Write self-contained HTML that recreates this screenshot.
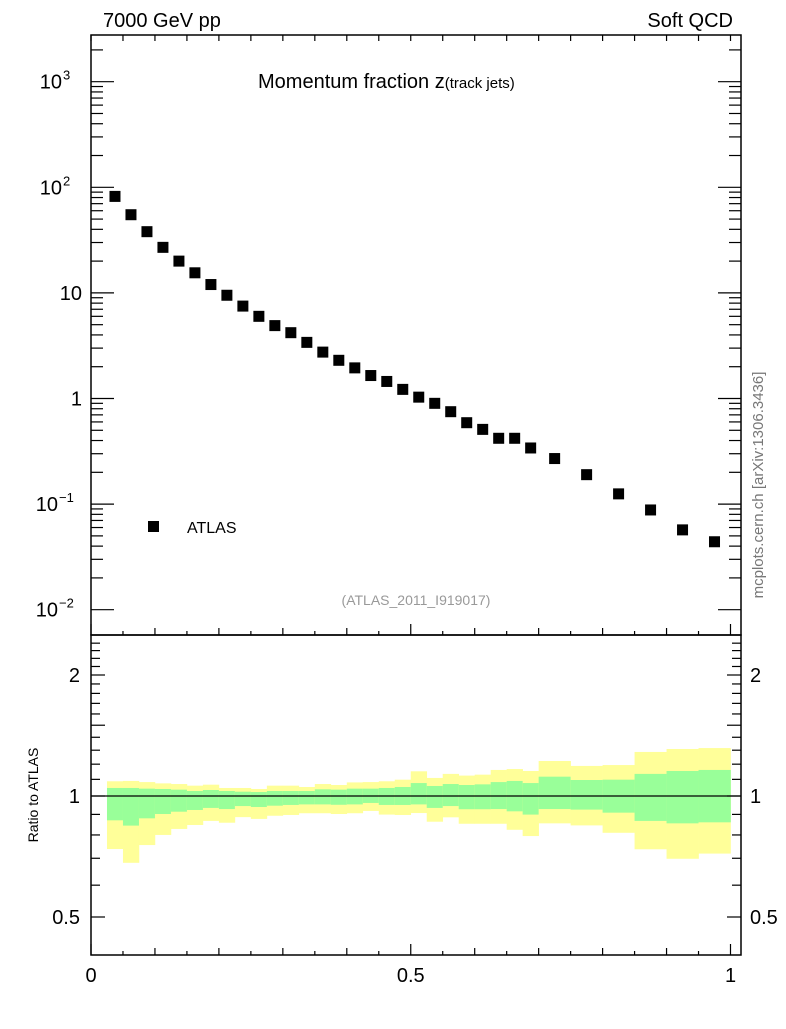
<!DOCTYPE html>
<html><head><meta charset="utf-8"><style>
body{margin:0;background:#fff;}
svg text{font-family:"Liberation Sans",sans-serif;}
</style></head><body>
<svg id="c" width="786" height="1024" xmlns="http://www.w3.org/2000/svg"></svg>
<script>
const xCenters=[0.0375,0.0625,0.0875,0.1125,0.1375,0.1625,0.1875,0.2125,0.2375,0.2625,0.2875,0.3125,0.3375,0.3625,0.3875,0.4125,0.4375,0.4625,0.4875,0.5125,0.5375,0.5625,0.5875,0.6125,0.6375,0.6625,0.6875,0.725,0.775,0.825,0.875,0.925,0.975];
const atlasValues=[82,55,38,27,20,15.5,12,9.5,7.5,6,4.9,4.2,3.4,2.75,2.3,1.95,1.65,1.45,1.22,1.03,0.9,0.75,0.59,0.51,0.42,0.42,0.34,0.27,0.19,0.125,0.088,0.057,0.044];
const binEdges=[0.025,0.05,0.075,0.1,0.125,0.15,0.175,0.2,0.225,0.25,0.275,0.3,0.325,0.35,0.375,0.4,0.425,0.45,0.475,0.5,0.525,0.55,0.575,0.6,0.625,0.65,0.675,0.7,0.75,0.8,0.85,0.9,0.95,1.0];
const yellowHi=[1.088,1.090,1.083,1.075,1.071,1.061,1.067,1.047,1.047,1.041,1.061,1.061,1.053,1.071,1.065,1.081,1.083,1.088,1.098,1.152,1.109,1.135,1.124,1.130,1.161,1.167,1.154,1.222,1.188,1.194,1.287,1.309,1.316];
const greenHi=[1.047,1.047,1.043,1.041,1.037,1.029,1.035,1.029,1.025,1.023,1.029,1.029,1.029,1.039,1.037,1.043,1.043,1.047,1.053,1.077,1.059,1.071,1.065,1.069,1.083,1.090,1.077,1.117,1.096,1.098,1.135,1.154,1.161];
const greenLo=[0.870,0.844,0.880,0.902,0.914,0.923,0.934,0.928,0.944,0.939,0.946,0.950,0.953,0.953,0.951,0.953,0.961,0.950,0.950,0.953,0.934,0.944,0.927,0.927,0.928,0.916,0.899,0.928,0.925,0.909,0.867,0.855,0.860];
const yellowLo=[0.738,0.682,0.755,0.800,0.828,0.847,0.867,0.858,0.886,0.877,0.893,0.897,0.906,0.906,0.902,0.906,0.918,0.899,0.897,0.907,0.863,0.885,0.853,0.853,0.853,0.824,0.795,0.855,0.845,0.810,0.737,0.698,0.719];
const xTickLabels=["0","0.5","1"];
const yTickExp=["−2","−1","","","2","3"];
const ratioTicks=[0.5,1,2];

const S=document.getElementById('c');const NS='http://www.w3.org/2000/svg';
function el(t,a,p){const e=document.createElementNS(NS,t);for(const k in a)e.setAttribute(k,a[k]);(p||S).appendChild(e);return e;}
const L=91,R=741,T=35,M=635,B=955;
const X=v=>91+639.5*v;
const Y=v=>398.5-105.6*Math.log10(v);
const YR=r=>796-121*Math.log2(r);
const gb=el('g',{});
for(let i=0;i<xCenters.length;i++){
 const x0=X(binEdges[i]),x1=X(binEdges[i+1]);
 const y1=Math.max(YR(yellowHi[i]),M);
 const r=el('rect',{x:x0,y:y1,width:x1-x0+0.3,height:YR(yellowLo[i])-y1,fill:'#ffff99'},gb);
 
 const g=el('rect',{x:x0,y:YR(greenHi[i]),width:x1-x0+0.3,height:YR(greenLo[i])-YR(greenHi[i]),fill:'#99ff99'},gb);
 
}
const rl=el('line',{x1:L,x2:R,y1:YR(1),y2:YR(1),stroke:'#000','stroke-width':1.3});

for(let i=0;i<xCenters.length;i++){
 const p=el('rect',{x:X(xCenters[i])-5.5,y:Y(atlasValues[i])-5.5,width:11,height:11,fill:'#000'});
 
}
const f1=el('rect',{x:L,y:T,width:R-L,height:M-T,fill:'none',stroke:'#000','stroke-width':1.5});

const f2=el('rect',{x:L,y:M,width:R-L,height:B-M,fill:'none',stroke:'#000','stroke-width':1.5});

const tk=el('g',{stroke:'#000','stroke-width':1.2});
for(let k=0;k<=20;k++){const v=k*0.05,x=X(v);
 const len=(k%10==0)?11:(k%2==0?7:4);
 el('line',{x1:x,x2:x,y1:B,y2:B-len},tk);el('line',{x1:x,x2:x,y1:M,y2:M-len},tk);
 el('line',{x1:x,x2:x,y1:T,y2:T+6},tk);
}
for(let d=-2;d<=3;d++){for(let m=1;m<=9;m++){const v=m*Math.pow(10,d),y=Y(v);if(y<T||y>M)continue;
 const len=m==1?23:12;el('line',{x1:L,x2:L+len,y1:y,y2:y},tk);el('line',{x1:R,x2:R-len,y1:y,y2:y},tk);}}
for(let k=4;k<=24;k++){const v=k/10;const y=YR(v);if(y<M+3||y>B-3)continue;
 const maj=(k%5==0);const len=maj?14:9;
 el('line',{x1:L,x2:L+len,y1:y,y2:y},tk);el('line',{x1:R,x2:R-len,y1:y,y2:y},tk);}
function txt(s,a,name){const t=el('text',a);t.textContent=s;return t;}
[0,0.5,1].forEach((v,i)=>txt(xTickLabels[i],{x:X(v),y:982,'font-size':20,'text-anchor':'middle'},'x-tick-label'));
const decs=[-2,-1,0,1,2,3];
decs.forEach((d,i)=>{const y=Y(Math.pow(10,d))+7;
 if(d==0){txt('1',{x:82,y:y,'font-size':20,'text-anchor':'end'},'y-tick-label');}
 else if(d==1){txt('10',{x:82,y:y,'font-size':20,'text-anchor':'end'},'y-tick-label');}
 else{txt('10',{x:d<0?58:62,y:y,'font-size':20,'text-anchor':'end'},'y-tick-label');
  txt(yTickExp[i],{x:d<0?59:63,y:y-9,'font-size':13,'text-anchor':'start'},'y-tick-exponent');}
});
ratioTicks.forEach(v=>{const y=YR(v)+7;const s=v==0.5?'0.5':String(v);
 txt(s,{x:80,y:y,'font-size':20,'text-anchor':'end'},'ratio-tick-label');
 txt(s,{x:750,y:y,'font-size':20,'text-anchor':'start'},'ratio-tick-label-right');});
txt('7000 GeV pp',{x:103,y:27,'font-size':20},'beam-label');
txt('Soft QCD',{x:733,y:27,'font-size':20,'text-anchor':'end'},'process-label');
const tt=txt('Momentum fraction ',{x:258,y:88,'font-size':20},'plot-title');
const ts=el('tspan',{'font-size':20},tt);ts.textContent='z';
const ts2=el('tspan',{'font-size':15},tt);ts2.textContent='(track jets)';
const lg=el('rect',{x:148,y:521,width:11,height:11,fill:'#000'});
txt('ATLAS',{x:187,y:533,'font-size':16},'legend-entry');
txt('(ATLAS_2011_I919017)',{x:416,y:605,'font-size':14,fill:'#999','text-anchor':'middle'},'analysis-id');
txt('Ratio to ATLAS',{x:0,y:0,'font-size':14,'text-anchor':'middle',transform:'translate(38,795) rotate(-90)'},'ratio-y-axis-title');
txt('mcplots.cern.ch [arXiv:1306.3436]',{x:0,y:0,'font-size':15,fill:'#777','text-anchor':'middle',transform:'translate(763,485) rotate(-90)'},'watermark');
</script>
</body></html>
